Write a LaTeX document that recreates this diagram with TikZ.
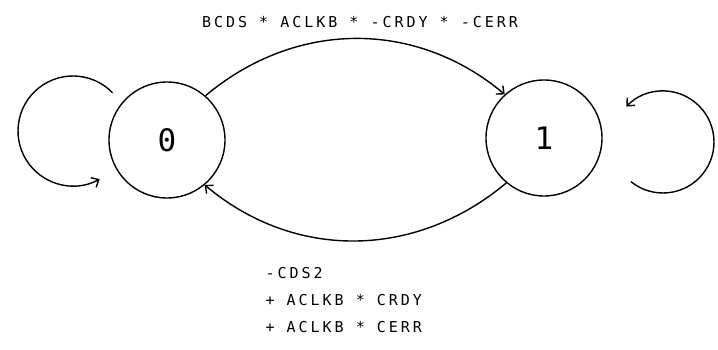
\documentclass[tikz,border=0pt]{standalone}
\usepackage{fontspec}
\newfontfamily\plotfont[LetterSpace=20]{DejaVu Sans Mono}
\newfontfamily\digitfont{DejaVu Sans Mono}
\usetikzlibrary{arrows.meta}

\begin{document}
\begin{tikzpicture}[x=1pt,y=1pt,
            state/.style={
                draw,
                circle,
                minimum size=116pt,
                inner sep=0pt,
                line width=1.4pt,
                font=\fontsize{31}{31}\selectfont\digitfont
            },
            trans/.style={
                line width=1.4pt,
                -{Straight Barb[length=6pt,width=11pt]}
            },
            lbl/.style={
                font=\fontsize{15}{18}\selectfont\plotfont
            }
        ]
            \useasboundingbox (0,0) rectangle (718,350);
            \node[state] (s0) at (167,210) {0};
            \node[state] (s1) at (544,212) {1};
            \node[lbl] (top) at (360,328) {BCDS * ACLKB * -CRDY * -CERR};
            \foreach \i/\t/\y in {
                1/-CDS2/77,
                2/+ ACLKB * CRDY/50,
                3/+ ACLKB * CERR/23
            } {
                \node[lbl, anchor=west] (bot\i) at (262,\y) {\t};
            }
            \draw[trans] (s0.49) to[out=40, in=140] (s1.132);
            \draw[trans] (s1.230) to[out=-140, in=-40] (s0.310);
            \coordinate (c0) at ([shift={(-94,9)}]s0.center);
            \coordinate (c1) at ([shift={(119,-4)}]s1.center);
            \draw[trans] ([shift={(44:55pt)}]c0) arc[start angle=44, end angle=299, radius=55pt];
            \draw[trans] ([shift={(231:51pt)}]c1) arc[start angle=231, end angle=496, radius=51pt];
        \end{tikzpicture}
\end{document}
